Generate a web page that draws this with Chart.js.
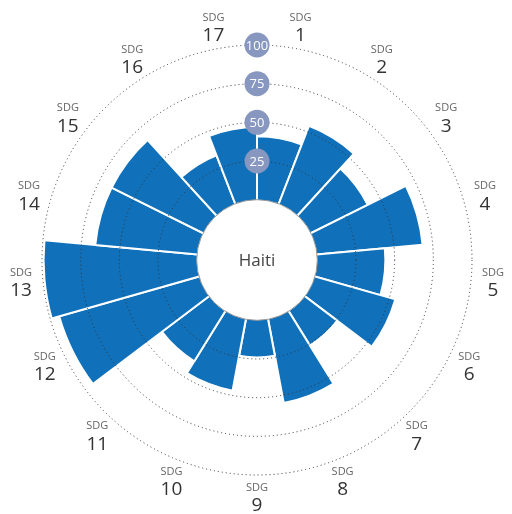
<!DOCTYPE html>
<html>
<head>
<meta charset="utf-8">
<script src="https://cdn.jsdelivr.net/npm/chart.js@4"></script>
<style>
  body { margin: 0; background: #fff; }
  #wrap { width: 512px; height: 514px; }
</style>
</head>
<body>
<div id="wrap"><canvas id="sdg-chart"></canvas></div>
<script>
// SDG goal numbers and the score for each one
var goals = [1, 2, 3, 4, 5, 6, 7, 8, 9, 10, 11, 12, 13, 14, 15, 16, 17];
var scores = [41, 54, 41, 68.5, 44, 54, 26, 55, 24, 47, 38, 94, 99, 66, 66, 33.5, 47];
var ringTicks = [25, 50, 75, 100];
var country = "Haiti";

var barColor = "#1071ba";
var badgeColor = "#8797c0";

// draws the white hole, the ring badges and the SDG labels
var extras = {
    id: "extras",
    afterDraw: function (chart) {
        var ctx = chart.ctx;
        var r = chart.scales.r;
        var cx = r.xCenter, cy = r.yCenter;

        // center hole
        var hole = r.getDistanceFromCenterForValue(0);
        ctx.save();
        ctx.beginPath();
        ctx.arc(cx, cy, hole, 0, Math.PI * 2);
        ctx.fillStyle = "#fff";
        ctx.fill();
        ctx.lineWidth = 1;
        ctx.strokeStyle = "#999";
        ctx.stroke();

        ctx.fillStyle = "#444";
        ctx.font = "17px 'Open Sans'";
        ctx.textAlign = "center";
        ctx.textBaseline = "middle";
        ctx.fillText(country, cx, cy + 1);

        // ring badges
        ringTicks.forEach(function (v) {
            var d = r.getDistanceFromCenterForValue(v);
            ctx.beginPath();
            ctx.arc(cx, cy - d, 12.5, 0, Math.PI * 2);
            ctx.fillStyle = badgeColor;
            ctx.fill();
            ctx.fillStyle = "#fff";
            ctx.font = "13px 'Open Sans'";
            ctx.fillText(String(v), cx, cy - d + 1);
        });

        // SDG labels around the outside
        goals.forEach(function (g, i) {
            var p = r.getPointPosition(i + 0.5, 237);
            ctx.fillStyle = "#666";
            ctx.font = "11px 'Open Sans'";
            ctx.fillText("SDG", p.x, p.y - 9);
            ctx.fillStyle = "#333";
            ctx.font = "19px 'Open Sans'";
            ctx.fillText(String(g), p.x, p.y + 9);
        });
        ctx.restore();
    }
};

new Chart(document.getElementById("sdg-chart"), {
    type: "polarArea",
    data: {
        labels: goals.map(function (g) { return "SDG " + g; }),
        datasets: [
            {
                data: scores,
                backgroundColor: barColor,
                borderColor: "#fff",
                borderWidth: 2
            }
        ]
    },
    options: {
        responsive: true,
        maintainAspectRatio: false,
        animation: false,
        layout: { padding: { left: 42, right: 40, top: 45, bottom: 39 } },
        plugins: {
            legend: { display: false },
            tooltip: { enabled: false }
        },
        scales: {
            r: {
                min: -39,
                max: 100,
                startAngle: 0,
                afterBuildTicks: function (scale) {
                    scale.ticks = ringTicks.map(function (v) { return { value: v }; });
                },
                ticks: { display: false },
                angleLines: { display: false },
                pointLabels: { display: false },
                grid: { circular: true, color: "#333", lineWidth: 1, z: 1 },
                border: { dash: [1, 3] }
            }
        }
    },
    plugins: [extras]
});
</script>
</body>
</html>
